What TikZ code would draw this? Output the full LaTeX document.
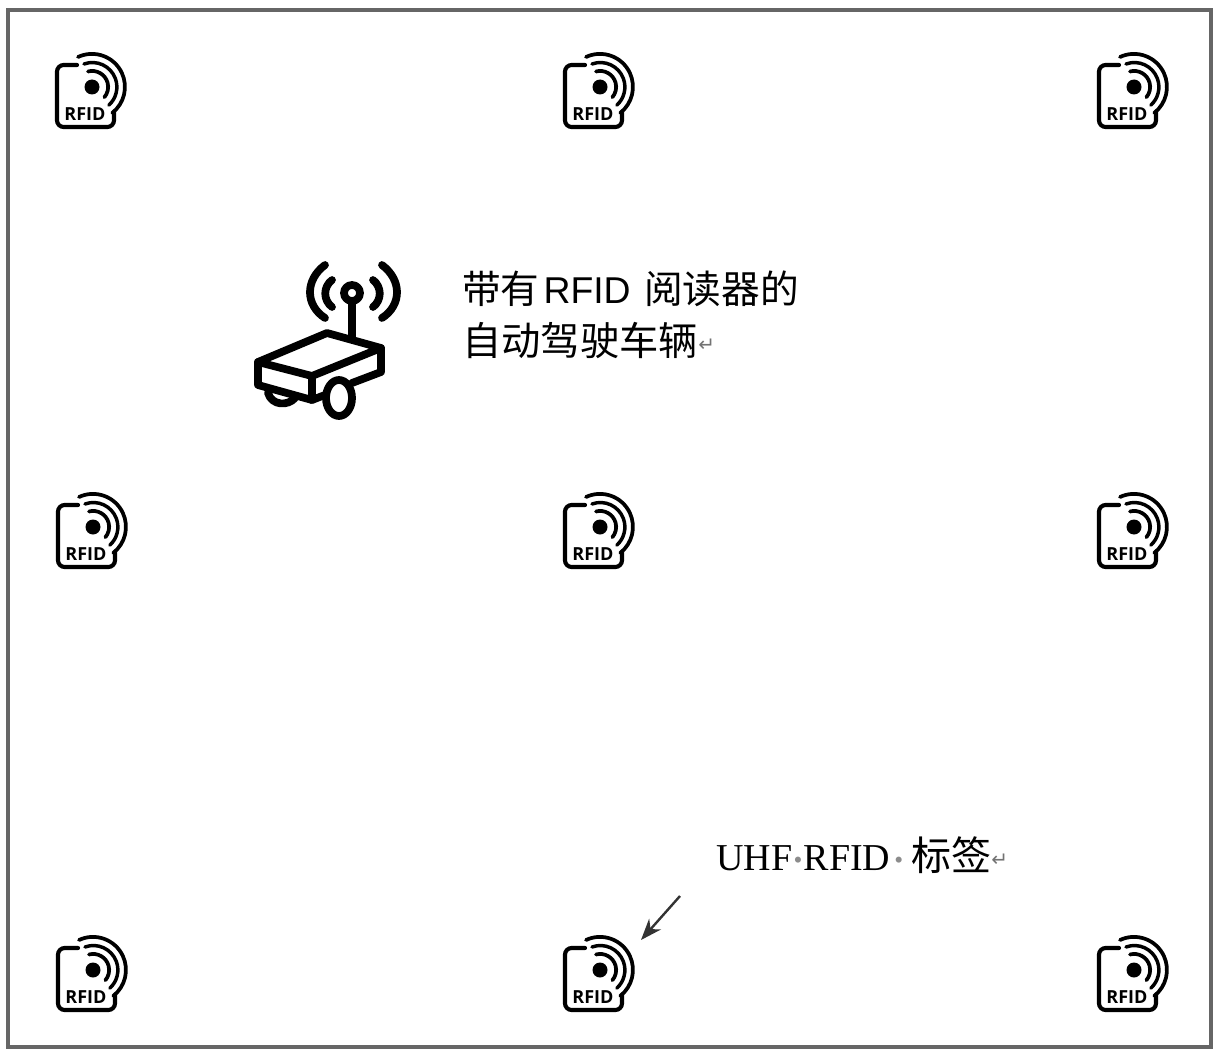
\documentclass[tikz,border=0pt]{standalone}
\usepackage{fontspec}
\setmainfont{Liberation Serif}
\newfontfamily\cjk{Noto Sans CJK SC}
\newfontfamily\arialfont{Liberation Sans}
\newfontfamily\tagfont{Open Sans}
\newfontfamily\markfont{DejaVu Sans}
\usetikzlibrary{arrows.meta}
\newcommand{\retmark}{{\markfont\fontsize{15}{15}\selectfont\color{black!55}\raisebox{3pt}{↵}}}
\newcommand{\gapdot}{{\color{black!45}\raisebox{1pt}{\fontsize{19}{19}\selectfont•}}}
\tikzset{
    rfidtag/.pic={
        \draw[line width=3.1pt,rounded corners=5pt,line cap=round] (-15,22) -- (-35,22) -- (-35,-40) -- (22,-40) -- (22,-25);
        \fill (0,0) circle (7.5);
        \draw[line width=2.8pt,line cap=round] (-4,15.5) arc[start angle=105,end angle=-40,radius=16];
        \draw[line width=2.6pt,line cap=round] (-8,23) arc[start angle=110,end angle=-48,radius=24.5];
        \draw[line width=2.8pt,line cap=round] (-14,30) arc[start angle=115,end angle=-52,radius=33];
        \node[fill=white,inner sep=1pt,font=\tagfont\bfseries\fontsize{13.5}{13.5}\selectfont] (-label) at (-7,-27) {RFID};
    },
}
\begin{document}
\begin{tikzpicture}[x=.75pt,y=.75pt]
    \tikzstyle{frameline}=[draw=black!60,line width=2.4pt]
    \tikzstyle{bodyline}=[line width=5.8pt,line join=round,line cap=round]
    \useasboundingbox (0,0) rectangle (1218,-1056);
    \draw[frameline] (8,-10) rectangle (1211,-1047);
    % tags
    \pic (tagA) at (92,-87) {rfidtag};
    \pic (tagB) at (600,-87) {rfidtag};
    \pic (tagC) at (1134,-87) {rfidtag};
    \pic (tagD) at (93,-527) {rfidtag};
    \pic (tagE) at (600,-527) {rfidtag};
    \pic (tagF) at (1134,-527) {rfidtag};
    \pic (tagG) at (93,-970) {rfidtag};
    \pic (tagH) at (600,-970) {rfidtag};
    \pic (tagI) at (1134,-970) {rfidtag};
    % vehicle
    \draw[bodyline] (352,-293) circle (8);
    \draw[bodyline] (352,-303) -- (352,-338);
    \draw[bodyline] (332,-280) .. controls (323,-287) and (323,-300) .. (332,-307);
    \draw[bodyline] (325,-265) .. controls (305,-280) and (305,-305) .. (325,-318);
    \draw[bodyline] (373,-280) .. controls (382,-287) and (382,-300) .. (373,-307);
    \draw[bodyline] (382,-265) .. controls (402,-280) and (402,-305) .. (382,-318);
    \draw[bodyline] (258,-362) -- (327,-333) -- (381,-348) -- (312,-376) -- cycle;
    \draw[bodyline] (258,-362) -- (258,-385) -- (312,-400) -- (312,-376);
    \draw[bodyline] (381,-348) -- (381,-372) -- (352,-383);
    \draw[bodyline] (312,-400) -- (330,-393);
    \draw[bodyline] (268,-393) .. controls (272,-406) and (288,-406) .. (295,-398);
    \draw[bodyline,fill=white] (339,-398) ellipse (13 and 18);
    % labels
    \node[anchor=west,align=left,inner sep=0pt,font=\fontsize{28}{39}\selectfont] (readerlabel) at (462,-315) {{\cjk\fontsize{29}{39}\selectfont 带有}\kern3pt{\arialfont RFID}\kern10pt{\cjk\fontsize{29}{39}\selectfont 阅读器的}\\{\cjk\fontsize{29.5}{39}\selectfont 自动驾驶车辆}\retmark};
    \node[anchor=west,inner sep=0pt,font=\fontsize{28.5}{30}\selectfont] (taglabel) at (716,-855) {UHF\kern1pt\gapdot\kern1pt RFID\kern3pt\gapdot\kern6pt{\cjk\fontsize{30}{30}\selectfont 标签}\retmark};
    \coordinate (arrowstart) at (680,-896);
    \coordinate (arrowend) at (641,-940);
    \draw[-{Stealth[length=16pt,width=12pt]},line width=1.8pt,black!80] (arrowstart) -- (arrowend);
\end{tikzpicture}
\end{document}
